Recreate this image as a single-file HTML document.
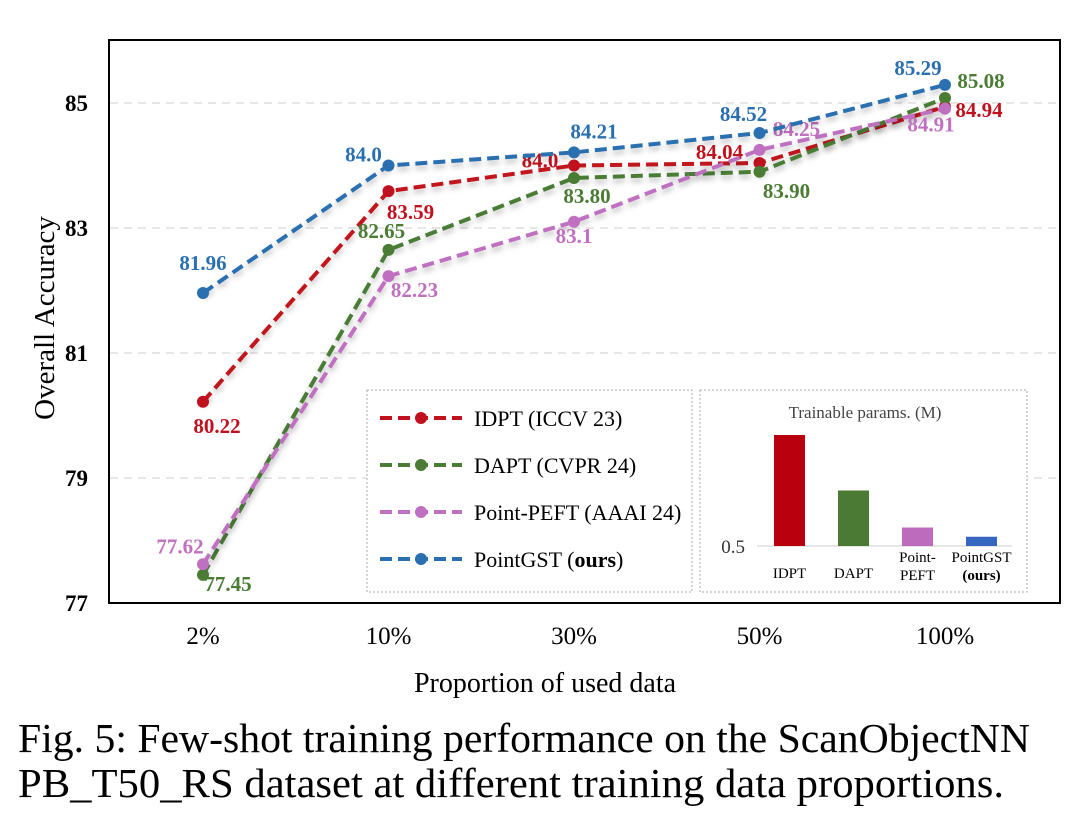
<!DOCTYPE html>
<html><head><meta charset="utf-8"><style>
body{margin:0;background:#fff;width:1080px;height:817px;overflow:hidden;font-family:"Liberation Serif",serif;}
svg text{font-family:"Liberation Serif",serif;}
</style></head><body>
<svg id="chart" width="1080" height="817" xmlns="http://www.w3.org/2000/svg">
<defs><filter id="sh" x="-10%" y="-10%" width="120%" height="130%"><feDropShadow dx="0" dy="4" stdDeviation="3" flood-color="#000" flood-opacity="0.25"/></filter></defs>
<g id="grid"></g>
<rect x="109" y="40" width="951" height="563" fill="none" stroke="#000" stroke-width="2"/>
<g id="axes"></g>
<g id="series"></g>
<g id="legend"></g>
<g id="inset"></g>
<text transform="translate(54,318) rotate(-90)" text-anchor="middle" font-size="29">Overall Accuracy</text>
<text x="545" y="692" text-anchor="middle" font-size="28">Proportion of used data</text>
<text x="18" y="752" font-size="41" textLength="1012" lengthAdjust="spacingAndGlyphs">Fig. 5: Few-shot training performance on the ScanObjectNN</text>
<text x="18" y="797" font-size="41" textLength="986" lengthAdjust="spacingAndGlyphs">PB_T50_RS dataset at different training data proportions.</text>
</svg>
<script>
const categories=["2%","10%","30%","50%","100%"];
const yTicks=[77,79,81,83,85];
const idpt=[80.22,83.59,84.0,84.04,84.94];
const dapt=[77.45,82.65,83.80,83.90,85.08];
const peft=[77.62,82.23,83.1,84.25,84.91];
const gst=[81.96,84.0,84.21,84.52,85.29];
const idptLabels=["80.22","83.59","84.0","84.04","84.94"];
const daptLabels=["77.45","82.65","83.80","83.90","85.08"];
const peftLabels=["77.62","82.23","83.1","84.25","84.91"];
const gstLabels=["81.96","84.0","84.21","84.52","85.29"];
const barNames=["IDPT","DAPT","Point-PEFT","PointGST"];
const barValues=[1.7,1.1,0.7,0.6];

const NS="http://www.w3.org/2000/svg";
function mk(tag,attrs,parent,txt){const e=document.createElementNS(NS,tag);for(const k in attrs)e.setAttribute(k,attrs[k]);if(txt!==undefined)e.textContent=txt;parent.appendChild(e);return e;}
const x=i=>203+i*185.5;
const y=v=>603-(v-77)*62.5;
const grid=document.getElementById('grid'),axes=document.getElementById('axes');
yTicks.forEach(t=>{
  if(t>77){const l=mk('line',{x1:110,x2:1059,y1:y(t),y2:y(t),stroke:'#ddd','stroke-dasharray':'8,6','stroke-width':1.5},grid);
  
  }
  const tx=mk('text',{x:88,y:y(t)+8,'text-anchor':'end','font-size':23,'font-weight':'bold'},axes,String(t));
  
  
});
categories.forEach((c,i)=>{
  const tx=mk('text',{x:x(i),y:644,'text-anchor':'middle','font-size':25},axes,c);
  
  
});
const sg=document.getElementById('series');
const offs={
 idpt:[[14,31],[22,28],[-34,2],[-40,-4],[34,10]],
 dapt:[[25,16],[-7,-12],[13,25],[27,26],[36,-10]],
 peft:[[-23,-11],[26,21],[0,21],[37,-14],[-14,23]],
 gst:[[0,-23],[-25,-4],[20,-14],[-16,-12],[-27,-10]]};
function series(name,vals,labels,color,off){
  const g=mk('g',{},sg);
  
  
  const pts=vals.map((v,i)=>x(i)+','+y(v)).join(' ');
  const pl=mk('polyline',{points:pts,fill:'none',stroke:color,'stroke-width':4,'stroke-dasharray':'12,6',filter:'url(#sh)'},g);
  
  
  vals.forEach((v,i)=>{
    const c=mk('circle',{cx:x(i),cy:y(v),r:6,fill:color},g);
    
    
    const t=mk('text',{x:x(i)+off[i][0],y:y(v)+off[i][1],'text-anchor':'middle','font-size':21,'font-weight':'bold',fill:color},g,labels[i]);
    
    
  });
}
series('idpt',idpt,idptLabels,'#c0121e',offs.idpt);
series('dapt',dapt,daptLabels,'#4a7c34',offs.dapt);
series('point-peft',peft,peftLabels,'#c070c0',offs.peft);
series('pointgst',gst,gstLabels,'#2a6fb0',offs.gst);

const lg=document.getElementById('legend');
const lb=mk('rect',{x:367,y:390,width:325,height:202,fill:'#fff',stroke:'#aaa','stroke-dasharray':'2,2'},lg);


const legItems=[['IDPT (ICCV 23)','#c0121e',''],['DAPT (CVPR 24)','#4a7c34',''],['Point-PEFT (AAAI 24)','#c070c0',''],['PointGST ','#2a6fb0','ours']];
legItems.forEach((it,i)=>{
  const yy=418+i*47;
  const g=mk('g',{},lg);
  
  
  mk('line',{x1:380,x2:462,y1:yy,y2:yy,stroke:it[1],'stroke-width':4,'stroke-dasharray':'12,6'},g);
  mk('circle',{cx:421,cy:yy,r:6,fill:it[1]},g);
  const t=mk('text',{x:474,y:yy+8,'font-size':22},g,it[0]);
  if(it[2]){mk('tspan',{},t,'(');mk('tspan',{'font-weight':'bold'},t,it[2]);mk('tspan',{},t,')');}
});

const ig=document.getElementById('inset');
const ib=mk('rect',{x:700,y:390,width:327,height:202,fill:'#fff',stroke:'#aaa','stroke-dasharray':'2,2'},ig);


const it=mk('text',{x:865,y:418,'text-anchor':'middle','font-size':17,fill:'#444'},ig,'Trainable params. (M)');


const by=v=>546-(v-0.5)*92.5;
mk('line',{x1:757,x2:1012,y1:546,y2:546,stroke:'#ccc','stroke-width':1},ig);
const bt=mk('text',{x:745,y:553,'text-anchor':'end','font-size':19,fill:'#333'},ig,'0.5');


const bcol=['#b8000f','#4b7a35','#bd6cbd','#3566c0'];
barValues.forEach((v,i)=>{
  const bx=774+i*64;
  const r=mk('rect',{x:bx,y:by(v),width:31,height:546-by(v),fill:bcol[i]},ig);
  
  
});
const bl=[['IDPT'],['DAPT'],['Point-','PEFT'],['PointGST','(ours)']];
bl.forEach((ls,i)=>{
  const cx=789.5+i*64;
  ls.forEach((s,j)=>{
    const t=mk('text',{x:cx,y:(ls.length==1?578:562+j*18),'text-anchor':'middle','font-size':15,'font-weight':(i==3&&j==1)?'bold':'normal'},ig,s);
    
    
  });
});
</script>
</body></html>
